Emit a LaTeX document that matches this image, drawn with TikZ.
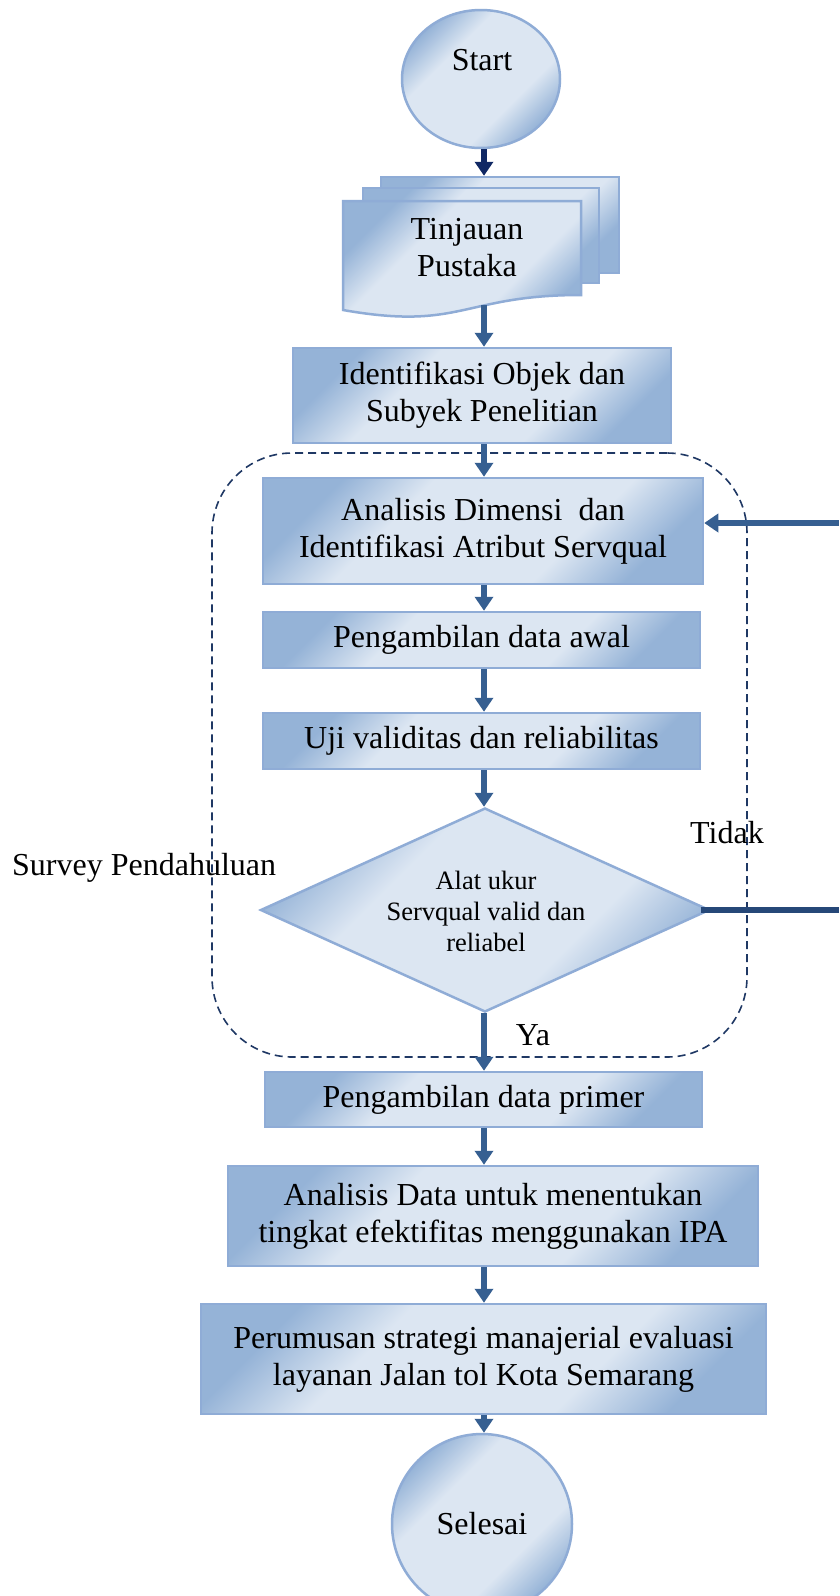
\documentclass[tikz,border=0pt]{standalone}
\usepackage{fontspec}
\setmainfont{Liberation Serif}
\usetikzlibrary{arrows.meta,shapes.geometric}
\definecolor{shdark}{RGB}{149,179,215}
\definecolor{shlight}{RGB}{220,230,242}
\definecolor{bordc}{RGB}{143,172,214}
\definecolor{arrowc}{RGB}{54,95,145}
\definecolor{navyc}{RGB}{16,40,100}
\definecolor{tidakc}{RGB}{38,72,120}
\definecolor{dashc}{RGB}{31,56,100}
\pgfdeclarehorizontalshading{wordgrad}{100bp}{color(0bp)=(shdark); color(25bp)=(shdark); color(37bp)=(shlight); color(63bp)=(shlight); color(75bp)=(shdark); color(100bp)=(shdark)}
\begin{document}
\begin{tikzpicture}[x=1pt,y=-1pt,
  shadefill/.style={draw=bordc, line width=2.5pt, shade, shading=wordgrad, shading angle=135},
  box/.style={shadefill, rectangle, inner sep=0pt, align=center, font=\fontsize{32}{37}\selectfont},
  lbl/.style={inner sep=0pt, align=center, font=\fontsize{32}{37}\selectfont},
  arr/.style={draw=arrowc, line width=6pt, -{Triangle[width=18pt,length=14pt]}},
  group/.style={draw=dashc, line width=1.6pt, dash pattern=on 8pt off 5pt, rounded corners=80pt, inner sep=0pt}
]
\useasboundingbox (0,0) rectangle (839,1596);
\fill[white] (0,0) rectangle (839,1596);
\coordinate (spine) at (484,0);

% dashed group frame
\node[group, minimum width=535pt, minimum height=604pt] (grp) at (479.5,755) {};

% start
\node[shadefill, ellipse, minimum width=158pt, minimum height=138pt, inner sep=0pt] (start) at (481,79) {};
\node[lbl] (startlbl) at (482,60) {Start};

% multi-document
\node[shadefill, rectangle, minimum width=238pt, minimum height=96pt, inner sep=0pt] (back) at (500,225) {};
\node[shadefill, rectangle, minimum width=236pt, minimum height=95pt, inner sep=0pt] (middle) at (481,235.5) {};
\path[shadefill] (343,201) -- (581,201) -- (581,295) .. controls (462,295) and (462,331) .. (343,310) -- cycle;
\coordinate (docbot) at (484,305);
\node[lbl] (doclbl) at (467,248) {Tinjauan\\Pustaka};

% process boxes
\node[box, minimum width=378pt, minimum height=95pt] (b1) at (482,395.5) {Identifikasi Objek dan\\Subyek Penelitian};
\node[box, minimum width=440pt, minimum height=106pt] (b2) at (483,531) {Analisis Dimensi\ \ dan\\Identifikasi Atribut Servqual};
\node[box, minimum width=437pt, minimum height=56pt] (b3) at (481.5,640) {Pengambilan data awal};
\node[box, minimum width=437pt, minimum height=56pt] (b4) at (481.5,741) {Uji validitas dan reliabilitas};
\node[shadefill, diamond, minimum width=449pt, minimum height=204pt, inner sep=0pt] (dia) at (485,910) {};
\node[inner sep=0pt, align=center, font=\fontsize{26.5}{31}\selectfont] (dialbl) at (486,911) {Alat ukur\\Servqual valid dan\\reliabel};
\node[box, minimum width=437pt, minimum height=55pt] (b5) at (483.5,1099.5) {Pengambilan data primer};
\node[box, minimum width=530pt, minimum height=100pt] (b6) at (493,1216) {Analisis Data untuk menentukan\\tingkat efektifitas menggunakan IPA};
\node[box, minimum width=565pt, minimum height=110pt] (b7) at (483.5,1359) {Perumusan strategi manajerial evaluasi\\layanan Jalan tol Kota Semarang};
\node[shadefill, ellipse, minimum width=180pt, minimum height=180pt, inner sep=0pt, font=\fontsize{32}{37}\selectfont] (sel) at (482,1524) {Selesai};

% connectors
\draw[arr, draw=navyc] (start.south -| spine) -- (back.north -| spine);
\draw[arr] (docbot) -- (b1.north -| spine);
\draw[arr] (b1.south -| spine) -- (b2.north -| spine);
\draw[arr] (b2.south -| spine) -- (b3.north -| spine);
\draw[arr] (b3.south -| spine) -- (b4.north -| spine);
\draw[arr] (b4.south -| spine) -- (dia.north -| spine);
\draw[arr] (dia.south -| spine) -- (b5.north -| spine);
\draw[arr] (b5.south -| spine) -- (b6.north -| spine);
\draw[arr] (b6.south -| spine) -- (b7.north -| spine);
\draw[arr] (b7.south -| spine) -- (sel.north -| spine);

\coordinate (fbin) at (839,523);
\draw[arr] (fbin) -- (fbin -| b2.east);
\coordinate (fbout) at (839,910);
\draw[draw=tidakc, line width=6pt] ([xshift=-10pt]dia.east) -- (fbout |- dia.east);

% labels
\node[lbl, anchor=west] (survey) at (12,868) {Survey Pendahuluan};
\node[lbl] (tidak) at (727,833) {Tidak};
\node[lbl] (ya) at (533,1035) {Ya};
\end{tikzpicture}
\end{document}
